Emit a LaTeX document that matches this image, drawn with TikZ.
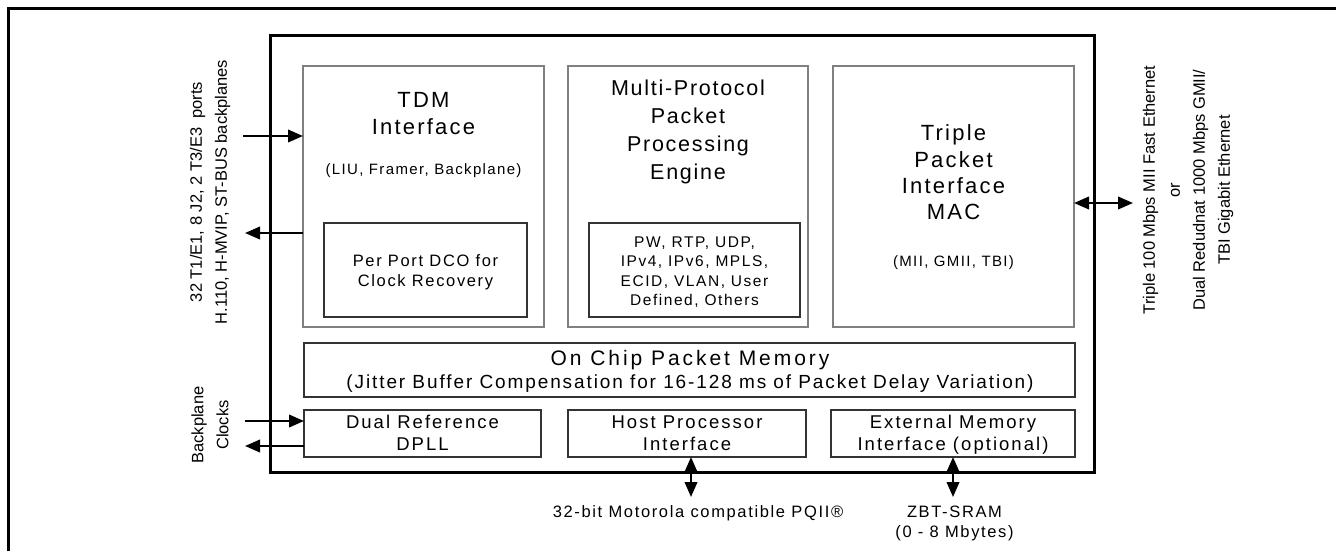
\documentclass[tikz,border=0pt]{standalone}
\usepackage{fontspec}
\setmainfont{Liberation Sans}
\usetikzlibrary{arrows.meta}
\newcommand\txtf[2]{\fontsize{#1pt}{#1pt}\selectfont\addfontfeature{LetterSpace=#2}}
\tikzset{
  chipbox/.style={draw=black, line width=3pt, inner sep=0pt, outer sep=0pt},
  bigbox/.style={draw=black!50, line width=1.5pt, inner sep=0pt, outer sep=0pt},
  smallbox/.style={draw=black!80, line width=1.3pt, inner sep=0pt, outer sep=0pt},
  lbl/.style={inner sep=0pt, anchor=base, text=black},
  side/.style={inner sep=0pt, rotate=90, align=center, font=\fontsize{16.5pt}{25pt}\selectfont},
  arr/.style={line width=2.2pt, -{Triangle[length=15pt,width=12.5pt]}},
  darr/.style={line width=2.2pt, {Triangle[length=15pt,width=12.5pt]}-{Triangle[length=15pt,width=12.5pt]}},
}
\begin{document}
\begin{tikzpicture}[x=1pt,y=-1pt]
\useasboundingbox (0,0) rectangle (1336,550);
% outer frame (open at right and bottom)
\draw[line width=3pt] (1345,8) -- (8,8) -- (8,560);
% chip
\node[chipbox, minimum width=824pt, minimum height=437pt] (chip) at (682,253.5) {};
% top blocks
\node[bigbox, minimum width=241pt, minimum height=261pt] (tdm) at (423.5,196.5) {};
\node[smallbox, minimum width=203pt, minimum height=94pt] (dco) at (425.5,270) {};
\node[bigbox, minimum width=240pt, minimum height=261pt] (mppe) at (688,196.5) {};
\node[smallbox, minimum width=211pt, minimum height=94pt] (proto) at (694.5,270) {};
\node[bigbox, minimum width=241pt, minimum height=261pt] (triple) at (953.5,196.5) {};
% memory and bottom blocks
\node[smallbox, minimum width=771pt, minimum height=54pt] (mem) at (689.5,370) {};
\node[smallbox, minimum width=237pt, minimum height=47pt] (dual) at (422.5,433.5) {};
\node[smallbox, minimum width=238pt, minimum height=47pt] (host) at (687,433.5) {};
\node[smallbox, minimum width=244pt, minimum height=47pt] (ext) at (953,433.5) {};
% TDM texts
\node[lbl, font=\txtf{22}{10}] (tdm1) at (423.5,107) {TDM};
\node[lbl, font=\txtf{22}{10}] (tdm2) at (423.5,134) {Interface};
\node[lbl, font=\txtf{15}{9}] (tdm3) at (423.5,174) {(LIU, Framer, Backplane)};
\node[lbl, font=\txtf{16.5}{10}] (dco1) at (425.5,266) {Per Port DCO for};
\node[lbl, font=\txtf{16.5}{10}] (dco2) at (425.5,286) {Clock Recovery};
% MPPE texts
\node[lbl, font=\txtf{21.5}{8}] (mp1) at (688,95) {Multi-Protocol};
\node[lbl, font=\txtf{21.5}{8}] (mp2) at (688,123) {Packet};
\node[lbl, font=\txtf{21.5}{8}] (mp3) at (688,151) {Processing};
\node[lbl, font=\txtf{21.5}{8}] (mp4) at (688,179) {Engine};
\node[lbl, font=\txtf{15.5}{10}] (pr1) at (694.5,247) {PW, RTP, UDP,};
\node[lbl, font=\txtf{15.5}{10}] (pr2) at (694.5,266.5) {IPv4, IPv6, MPLS,};
\node[lbl, font=\txtf{15.5}{10}] (pr3) at (694.5,286) {ECID, VLAN, User};
\node[lbl, font=\txtf{15.5}{10}] (pr4) at (694.5,305.5) {Defined, Others};
% Triple texts
\node[lbl, font=\txtf{22}{10}] (tr1) at (953.5,140) {Triple};
\node[lbl, font=\txtf{22}{10}] (tr2) at (953.5,167) {Packet};
\node[lbl, font=\txtf{22}{10}] (tr3) at (953.5,193) {Interface};
\node[lbl, font=\txtf{22}{10}] (tr4) at (953.5,219) {MAC};
\node[lbl, font=\txtf{15}{9}] (tr5) at (953.5,266) {(MII, GMII, TBI)};
% memory texts
\node[lbl, font=\txtf{21}{14}] (mem1) at (690,365) {On Chip Packet Memory};
\node[lbl, font=\txtf{19}{10}] (mem2) at (690,388) {(Jitter Buffer Compensation for 16-128 ms of Packet Delay Variation)};
% bottom block texts
\node[lbl, font=\txtf{18.5}{11}] (du1) at (422.5,428) {Dual Reference};
\node[lbl, font=\txtf{18.5}{11}] (du2) at (422.5,450) {DPLL};
\node[lbl, font=\txtf{18.5}{11}] (ho1) at (687,428) {Host Processor};
\node[lbl, font=\txtf{18.5}{11}] (ho2) at (687,450) {Interface};
\node[lbl, font=\txtf{18.5}{11}] (ex1) at (953,428) {External Memory};
\node[lbl, font=\txtf{18.5}{11}] (ex2) at (953,450) {Interface (optional)};
% outside texts
\node[lbl, font=\txtf{16.5}{10}] (pq) at (698,517) {32-bit Motorola compatible PQII®};
\node[lbl, font=\txtf{16.5}{10}] (zbt1) at (954.5,517) {ZBT-SRAM};
\node[lbl, font=\txtf{16.5}{10}] (zbt2) at (954.5,537) {(0 - 8 Mbytes)};
\node[side] (ports) at (210,192) {32 T1/E1, 8 J2, 2 T3/E3\ \ ports\\H.110, H-MVIP, ST-BUS backplanes};
\node[side] (bpc) at (210,425) {Backplane\\Clocks};
\node[side] (eth) at (1188,190) {Triple 100 Mbps MII Fast Ethernet\\or\\Dual Redudnat 1000 Mbps GMII/\\TBI Gigabit Ethernet};
% connectors
\coordinate (tdmIn) at (243,136);
\coordinate (tdmOut) at (245,233);
\coordinate (bpIn) at (245,421);
\coordinate (bpOut) at (245,446);
\coordinate (ethEnd) at (1133,203);
\coordinate (hostEnd) at (691,497);
\coordinate (extEnd) at (953,497);
\draw[arr] (tdmIn) -- (tdmIn -| tdm.west);
\draw[arr] (tdmOut -| tdm.west) -- (tdmOut);
\draw[arr] (bpIn) -- (bpIn -| dual.west);
\draw[arr] (bpOut -| dual.west) -- (bpOut);
\draw[darr] (ethEnd -| triple.east) -- (ethEnd);
\draw[darr] (hostEnd |- host.south) -- (hostEnd);
\draw[darr] (ext.south) -- (extEnd);
\end{tikzpicture}
\end{document}
